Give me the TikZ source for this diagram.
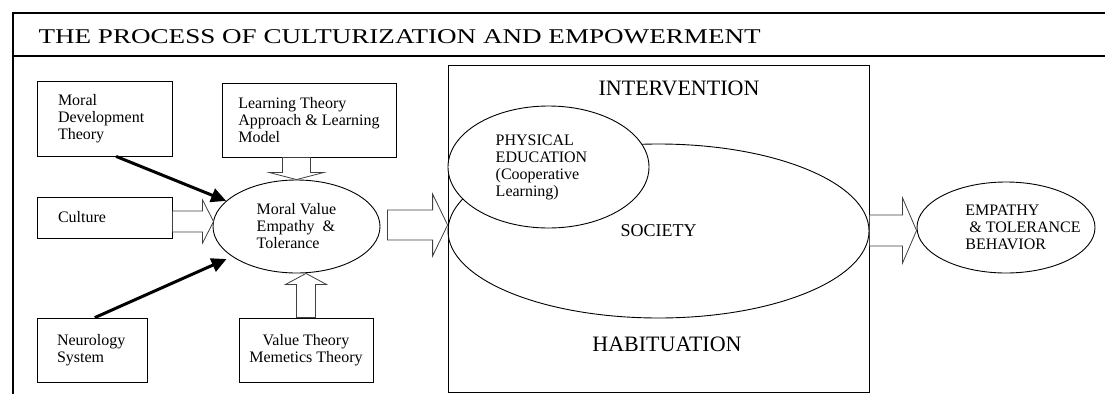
\documentclass[tikz,border=0pt]{standalone}
\usepackage{fontspec}
\setmainfont{Liberation Serif}
\usetikzlibrary{shapes.geometric,arrows.meta,calc}

\newcommand{\blockarrow}[5]{%
  \coordinate (hb) at ($(#2)!#5!(#1)$);
  \draw[hollow] ($(#1)!#3!90:(#2)$) -- ($(hb)!#3!90:(#2)$) -- ($(hb)!#4!90:(#2)$) -- (#2)
    -- ($(hb)!#4!-90:(#2)$) -- ($(hb)!#3!-90:(#2)$) -- ($(#1)!#3!-90:(#2)$) -- cycle;}

\begin{document}
\begin{tikzpicture}[x=1pt, y=-1pt,
  box/.style = {draw, line width=0.8pt, align=left, font=\fontsize{16}{17}\selectfont},
  oval/.style = {draw, ellipse, line width=0.9pt, inner sep=0pt, font=\fontsize{16}{17}\selectfont},
  bold/.style = {line width=3pt, -{Triangle[length=15pt,width=14pt]}},
  hollow/.style = {draw=black!75, line width=0.8pt, fill=white},
  big text/.style = {font=\fontsize{22}{24}\selectfont}]
\useasboundingbox (0,0) rectangle (1105,394);
% frame and title
\draw[line width=2pt] (1105,13) -- (13,13) -- (13,394);
\draw[line width=2pt] (13,56) -- (1105,56);
\node[font=\fontsize{21}{24}\selectfont, anchor=base west] (title) at (35,43) {\scalebox{1.29}[1]{THE PROCESS OF CULTURIZATION AND EMPOWERMENT}};
% sources
\node[box, minimum width=135pt, minimum height=75pt, text width=93pt, inner xsep=21pt] (mdt) at (104.5,118.5) {Moral\\Development\\Theory};
\node[box, minimum width=174pt, minimum height=74pt] (ltb) at (309,120) {Learning Theory\\Approach \& Learning\\Model};
\node[box, minimum width=135pt, minimum height=41pt, text width=93pt, inner xsep=21pt] (cul) at (104.5,217.5) {Culture};
\node[box, minimum width=110pt, minimum height=64pt, text width=70pt, inner xsep=20pt] (neu) at (92,350) {Neurology\\System};
\node[box, align=center, minimum width=134pt, minimum height=64pt] (vt) at (306,350) {Value Theory\\Memetics Theory};
\node[oval, align=left, minimum width=167pt, minimum height=93pt] (mv) at (296.5,226.5) {Moral Value\\Empathy\ \ \&\\Tolerance};
% intervention
\node[draw, line width=0.8pt, minimum width=421pt, minimum height=327pt] (big) at (658.5,228.5) {};
\node[oval, minimum width=421pt, minimum height=174pt, font=\fontsize{18}{20}\selectfont] (soc) at (658.5,231) {SOCIETY};
\node[oval, fill=white, minimum width=201pt, minimum height=122pt,
  label={[align=left, font=\fontsize{16}{17}\selectfont, xshift=-7pt]center:{PHYSICAL\\EDUCATION\\(Cooperative\\Learning)}}] (pe) at (548.5,167) {};
\node[big text] (intv) at (679,88) {INTERVENTION};
\node[big text] (hab) at (667,344) {HABITUATION};
\node[oval, minimum width=178pt, minimum height=91pt,
  label={[align=left, font=\fontsize{16}{17}\selectfont, xshift=17pt]center:{EMPATHY\\\hspace*{4pt}\& TOLERANCE\\BEHAVIOR}}] (emp) at (1006,227.5) {};
% arrows
\draw[bold] (mdt.-73) -- (mv.160);
\draw[bold, shorten >=6pt] (neu.85) -- (mv.205);
\coordinate (c1) at ($(cul.east)+(0,4)$);
\coordinate (c2) at ($(c1 -| mv.west)+(1,0)$);
\blockarrow{c1}{c2}{10.5pt}{21.5pt}{11pt}
\coordinate (l1) at (mv.north |- ltb.south);
\blockarrow{l1}{mv.north}{14pt}{27pt}{7pt}
\coordinate (v2) at (vt.north |- mv.south);
\blockarrow{vt.north}{v2}{9.5pt}{20.5pt}{11pt}
\coordinate (m1) at ($(mv.east)+(7,-1.5)$);
\coordinate (m2) at (m1 -| big.west);
\blockarrow{m1}{m2}{15pt}{31pt}{15pt}
\coordinate (e2) at ($(emp.west)+(0,3)$);
\coordinate (e1) at (big.east |- e2);
\blockarrow{e1}{e2}{15.5pt}{32.5pt}{14pt}
\end{tikzpicture}
\end{document}
